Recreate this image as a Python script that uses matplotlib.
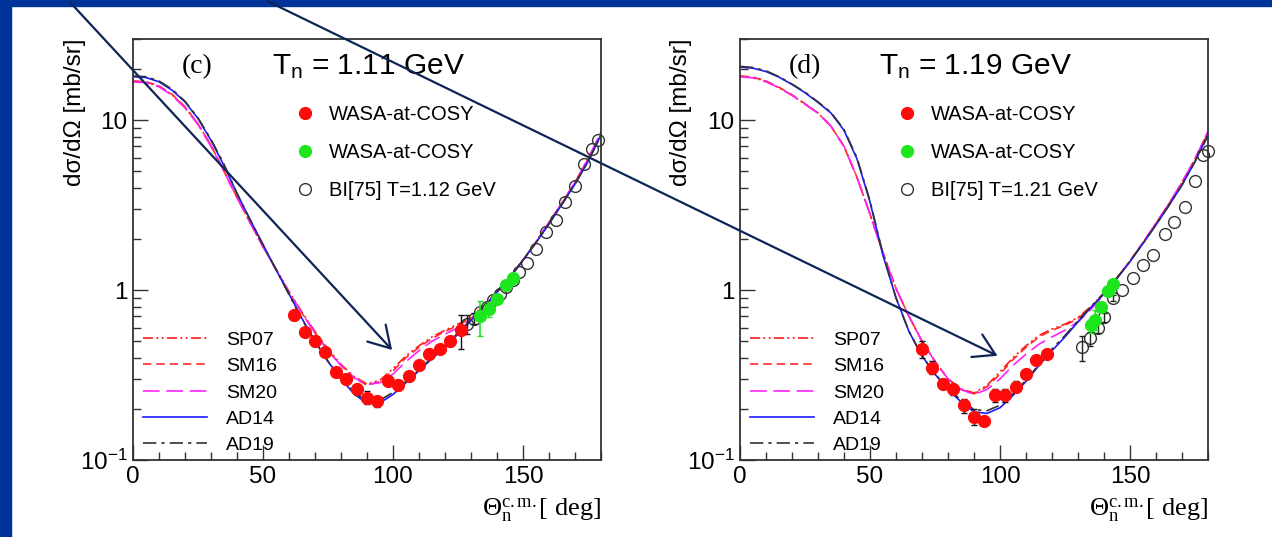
import numpy as np
import matplotlib
matplotlib.use("Agg")
import matplotlib.pyplot as plt
from matplotlib.patches import Rectangle, FancyArrowPatch, ArrowStyle
from matplotlib.ticker import FixedLocator, LogLocator, NullFormatter, MultipleLocator
from matplotlib.lines import Line2D

plt.rcParams['font.family'] = ['Liberation Sans', 'DejaVu Sans']
plt.rcParams['mathtext.fontset'] = 'custom'
plt.rcParams['mathtext.rm'] = 'Liberation Serif'
plt.rcParams['mathtext.sf'] = 'Liberation Sans'
plt.rcParams['mathtext.it'] = 'Liberation Serif:italic'

# ---- model curves (PWA solutions), angle grid in degrees ----
theta_model = list(range(0, 185, 5))

sp07_c = [16.9, 16.7, 15.8, 14.1, 11.9, 9.5, 7.1, 5.0, 3.5, 2.5, 1.8, 1.33, 0.98, 0.74, 0.57, 0.45, 0.365, 0.31, 0.28,
          0.295, 0.345, 0.41, 0.47, 0.53, 0.58, 0.63, 0.69, 0.81, 0.98, 1.2, 1.5, 1.92, 2.5, 3.25, 4.3, 5.9, 8.4]
sm16_c = [17.0, 16.8, 15.9, 14.2, 12.0, 9.5, 7.1, 5.0, 3.5, 2.5, 1.8, 1.32, 0.97, 0.73, 0.56, 0.44, 0.36, 0.305, 0.275,
          0.29, 0.335, 0.40, 0.46, 0.52, 0.57, 0.62, 0.68, 0.80, 0.97, 1.19, 1.5, 1.92, 2.5, 3.25, 4.3, 5.9, 8.4]
sm20_c = [16.8, 16.6, 15.7, 14.0, 11.8, 9.4, 7.0, 5.0, 3.5, 2.5, 1.8, 1.32, 0.97, 0.73, 0.56, 0.44, 0.36, 0.305, 0.278,
          0.285, 0.32, 0.38, 0.44, 0.50, 0.55, 0.60, 0.67, 0.79, 0.96, 1.18, 1.5, 1.92, 2.5, 3.25, 4.3, 5.9, 8.5]
ad14_c = [18.0, 17.8, 16.8, 15.0, 12.8, 10.2, 7.6, 5.4, 3.7, 2.6, 1.85, 1.32, 0.95, 0.68, 0.50, 0.38, 0.30, 0.245, 0.215,
          0.217, 0.243, 0.285, 0.335, 0.395, 0.46, 0.55, 0.66, 0.80, 0.97, 1.19, 1.5, 1.9, 2.45, 3.2, 4.2, 5.7, 8.2]
ad19_c = [18.2, 18.0, 17.0, 15.2, 12.9, 10.3, 7.7, 5.5, 3.7, 2.6, 1.85, 1.32, 0.94, 0.67, 0.50, 0.38, 0.30, 0.25, 0.222,
          0.225, 0.25, 0.29, 0.34, 0.40, 0.47, 0.56, 0.67, 0.81, 0.98, 1.2, 1.5, 1.9, 2.45, 3.2, 4.2, 5.7, 8.1]

sp07_d = [18.1, 17.8, 16.9, 15.5, 14.0, 12.4, 11.0, 9.2, 7.0, 4.6, 2.8, 1.65, 1.02, 0.70, 0.50, 0.38, 0.30, 0.262, 0.248,
          0.275, 0.33, 0.40, 0.47, 0.54, 0.59, 0.63, 0.69, 0.80, 0.96, 1.18, 1.48, 1.9, 2.47, 3.22, 4.3, 5.9, 8.5]
sm16_d = [18.2, 17.9, 17.0, 15.6, 14.1, 12.5, 11.0, 9.2, 7.0, 4.6, 2.8, 1.65, 1.02, 0.70, 0.50, 0.38, 0.30, 0.26, 0.245,
          0.27, 0.32, 0.39, 0.46, 0.53, 0.58, 0.62, 0.68, 0.79, 0.95, 1.18, 1.48, 1.9, 2.47, 3.22, 4.3, 5.9, 8.5]
sm20_d = [18.0, 17.7, 16.8, 15.5, 14.0, 12.4, 11.0, 9.2, 7.0, 4.6, 2.8, 1.65, 1.02, 0.70, 0.50, 0.38, 0.30, 0.26, 0.243,
          0.26, 0.30, 0.36, 0.42, 0.48, 0.53, 0.58, 0.65, 0.77, 0.94, 1.17, 1.48, 1.9, 2.47, 3.22, 4.3, 5.9, 8.6]
ad14_d = [20.5, 20.2, 19.3, 17.9, 16.2, 14.5, 12.7, 11.0, 8.7, 5.9, 3.3, 1.6, 0.9, 0.57, 0.41, 0.32, 0.26, 0.22, 0.192,
          0.188, 0.203, 0.24, 0.29, 0.36, 0.44, 0.53, 0.65, 0.79, 0.95, 1.17, 1.47, 1.88, 2.42, 3.15, 4.15, 5.7, 8.2]
ad19_d = [20.7, 20.4, 19.5, 18.0, 16.3, 14.6, 12.8, 11.1, 8.8, 6.0, 3.35, 1.62, 0.9, 0.57, 0.41, 0.32, 0.265, 0.225, 0.198,
          0.195, 0.21, 0.245, 0.295, 0.365, 0.45, 0.54, 0.66, 0.80, 0.96, 1.18, 1.48, 1.88, 2.42, 3.15, 4.15, 5.7, 8.1]

# ---- data points, panel (c) T_n = 1.11 GeV ----
red_c_theta = [62, 66, 70, 74, 78, 82, 86, 90, 94, 98, 102, 106, 110, 114, 118, 122, 126]
red_c = [0.71, 0.57, 0.50, 0.43, 0.33, 0.30, 0.26, 0.233, 0.221, 0.293, 0.277, 0.31, 0.36, 0.42, 0.45, 0.50, 0.58]
red_c_err = [0.04, 0.03, 0.03, 0.02, 0.02, 0.02, 0.02, 0.02, 0.015, 0.02, 0.02, 0.02, 0.02, 0.025, 0.025, 0.03, 0.13]
green_c_theta = [133.5, 137, 140, 143.5, 146]
green_c = [0.70, 0.77, 0.89, 1.07, 1.18]
green_c_err = [0.16, 0.08, 0.05, 0.04, 0.04]
bi_c_theta = [128.5, 131, 133.5, 136, 138.5, 141, 143.5, 146, 148.5, 151.5, 155, 159, 162.5, 166, 170, 173.5, 176.5, 178.8]
bi_c = [0.63, 0.68, 0.74, 0.80, 0.87, 0.95, 1.04, 1.14, 1.28, 1.45, 1.74, 2.2, 2.6, 3.3, 4.1, 5.5, 6.8, 7.6]
bi_c_err = [0.08, 0.05, 0, 0, 0, 0, 0, 0, 0, 0, 0, 0, 0, 0, 0, 0, 0, 0]

# ---- data points, panel (d) T_n = 1.19 GeV ----
red_d_theta = [70, 74, 78, 82, 86, 90, 94, 98, 102, 106, 110, 114, 118]
red_d = [0.45, 0.35, 0.28, 0.26, 0.21, 0.18, 0.17, 0.24, 0.24, 0.27, 0.32, 0.39, 0.42]
red_d_err = [0.05, 0.03, 0.02, 0.02, 0.02, 0.02, 0.01, 0.02, 0.02, 0.02, 0.02, 0.02, 0.02]
green_d_theta = [135, 136.5, 139, 141.5, 143.5]
green_d = [0.62, 0.67, 0.80, 0.99, 1.09]
green_d_err = [0.06, 0.09, 0.05, 0.04, 0.04]
bi_d_theta = [131.5, 134.5, 137.5, 140, 143.5, 147, 151, 155, 159, 163.5, 167, 171, 175, 178, 180]
bi_d = [0.46, 0.52, 0.60, 0.69, 0.90, 1.0, 1.18, 1.40, 1.60, 2.15, 2.5, 3.1, 4.4, 6.2, 6.6]
bi_d_err = [0.08, 0.05, 0.04, 0.04, 0.04, 0, 0, 0, 0, 0, 0, 0, 0, 0, 0]

panels = [
    dict(tag='(c)', energy='1.11', bi_label='BI[75] T=1.12 GeV',
         curves=[sp07_c, sm16_c, sm20_c, ad14_c, ad19_c],
         red=(red_c_theta, red_c, red_c_err), green=(green_c_theta, green_c, green_c_err),
         bi=(bi_c_theta, bi_c, bi_c_err), left=133, leg_x=0.346),
    dict(tag='(d)', energy='1.19', bi_label='BI[75] T=1.21 GeV',
         curves=[sp07_d, sm16_d, sm20_d, ad14_d, ad19_d],
         red=(red_d_theta, red_d, red_d_err), green=(green_d_theta, green_d, green_d_err),
         bi=(bi_d_theta, bi_d, bi_d_err), left=740, leg_x=0.335),
]

curve_names = ['SP07', 'SM16', 'SM20', 'AD14', 'AD19']
curve_colors = ['#ff1a1a', '#ff2a2a', '#ff22ff', '#1a1aff', '#333333']
curve_styles = [(0, (6, 2, 1.2, 2, 1.2, 2)), (0, (5, 3)), (0, (10, 4)), '-', (0, (8, 3, 2, 3))]

W, H = 1272, 537
fig = plt.figure(figsize=(W / 100, H / 100), dpi=100)
fig.patch.set_facecolor('white')

# blue slide frame
fig.add_artist(Rectangle((0, 1 - 6 / H), 1, 6 / H, transform=fig.transFigure, color='#003399', zorder=0))
fig.add_artist(Rectangle((0, 0), 11 / W, 1, transform=fig.transFigure, color='#003399', zorder=0))

ax_w, ax_h = 468 / W, 421 / H
ax_b = (H - 460) / H
frame_col = '#333333'

for p in panels:
    ax = fig.add_axes([p['left'] / W, ax_b, ax_w, ax_h])
    ax.set_yscale('log')
    ax.set_xlim(0, 180)
    ax.set_ylim(0.1, 30)

    handles = []
    for vals, name, col, ls in zip(p['curves'], curve_names, curve_colors, curve_styles):
        h, = ax.plot(theta_model, vals, color=col, ls=ls, lw=1.2, label=name, zorder=2)
        handles.append(h)

    # BI[75] open circles, error bars only where they show
    t, v, e = p['bi']
    ax.plot(t, v, 'o', ms=8.5, mfc='none', mec='#333333', mew=1.0, zorder=3, clip_on=False)
    te = [a for a, b in zip(t, e) if b > 0]
    ve = [a for a, b in zip(v, e) if b > 0]
    ee = [b for b in e if b > 0]
    ax.errorbar(te, ve, yerr=ee, fmt='none', ecolor='#222222', elinewidth=1.0, capsize=2, zorder=3)

    t, v, e = p['green']
    ax.errorbar(t, v, yerr=e, fmt='o', ms=8.5, color='#1ee61e', ecolor='#1ee61e',
                elinewidth=1.2, capsize=2, zorder=4)
    t, v, e = p['red']
    ax.errorbar(t, v, yerr=e, fmt='o', ms=8.5, color='#ff0a0a', ecolor='#111111',
                elinewidth=1.0, capsize=2, zorder=5)

    # axes styling (ROOT look)
    for s in ax.spines.values():
        s.set_color(frame_col)
        s.set_linewidth(1.3)
    ax.xaxis.set_major_locator(MultipleLocator(50))
    ax.xaxis.set_minor_locator(MultipleLocator(10))
    ax.yaxis.set_major_locator(FixedLocator([0.1, 1, 10]))
    ax.yaxis.set_minor_locator(LogLocator(base=10, subs=np.arange(2, 10)))
    ax.yaxis.set_minor_formatter(NullFormatter())
    ax.set_yticklabels([r'$\mathsf{10^{-1}}$', '1', '10'])
    ax.tick_params(which='both', direction='in', top=False, right=False, color=frame_col,
                   labelsize=17.5, width=1.0, pad=4)
    ax.tick_params(which='major', length=11)
    ax.tick_params(which='minor', length=5.5)

    ax.text(-0.125, 1.0, 'dσ/dΩ [mb/sr]', transform=ax.transAxes, rotation=90,
            ha='center', va='top', fontsize=17.5)
    ax.text(1.0, -0.118, r'$\Theta_{\mathrm{n}}^{\mathrm{c.m.}}$[ deg]', transform=ax.transAxes,
            ha='right', va='center', fontsize=19, family='Liberation Serif')
    ax.text(0.105, 0.935, p['tag'], transform=ax.transAxes, ha='left', va='center',
            fontsize=20, family='Liberation Serif')
    ax.text(0.297, 0.933, r'T$_{\mathsf{n}}$ = ' + p['energy'] + ' GeV', transform=ax.transAxes,
            ha='left', va='center', fontsize=21.5)

    # marker legend
    mk = [Line2D([], [], ls='none', marker='o', ms=8.5, color='#ff0a0a'),
          Line2D([], [], ls='none', marker='o', ms=8.5, color='#1ee61e'),
          Line2D([], [], ls='none', marker='o', ms=8.5, mfc='none', mec='#333333')]
    leg1 = ax.legend(mk, ['WASA-at-COSY', 'WASA-at-COSY', p['bi_label']], loc='upper left',
                     bbox_to_anchor=(p['leg_x'], 0.843), frameon=False, fontsize=14.5,
                     handlelength=1.0, handletextpad=0.7, labelspacing=0.95,
                     borderpad=0, borderaxespad=0)
    ax.add_artist(leg1)
    ax.legend(handles, curve_names, loc='upper left', bbox_to_anchor=(0.021, 0.306),
              frameon=False, fontsize=14, handlelength=3.3, handletextpad=1.0,
              labelspacing=0.45, borderpad=0, borderaxespad=0)

# overlaid arrows from the slide
arrow_col = '#0f2456'
for (x0, y0), (x1, y1) in [((68, 0), (394, 352)), ((265, 0), (1000, 357))]:
    arr = FancyArrowPatch((x0 / W, 1 - y0 / H), (x1 / W, 1 - y1 / H), transform=fig.transFigure,
                          arrowstyle=ArrowStyle('->', head_length=1.0, head_width=0.6),
                          mutation_scale=15, color=arrow_col, lw=1.6, zorder=20)
    fig.add_artist(arr)

fig.savefig('out.png', dpi=100)
